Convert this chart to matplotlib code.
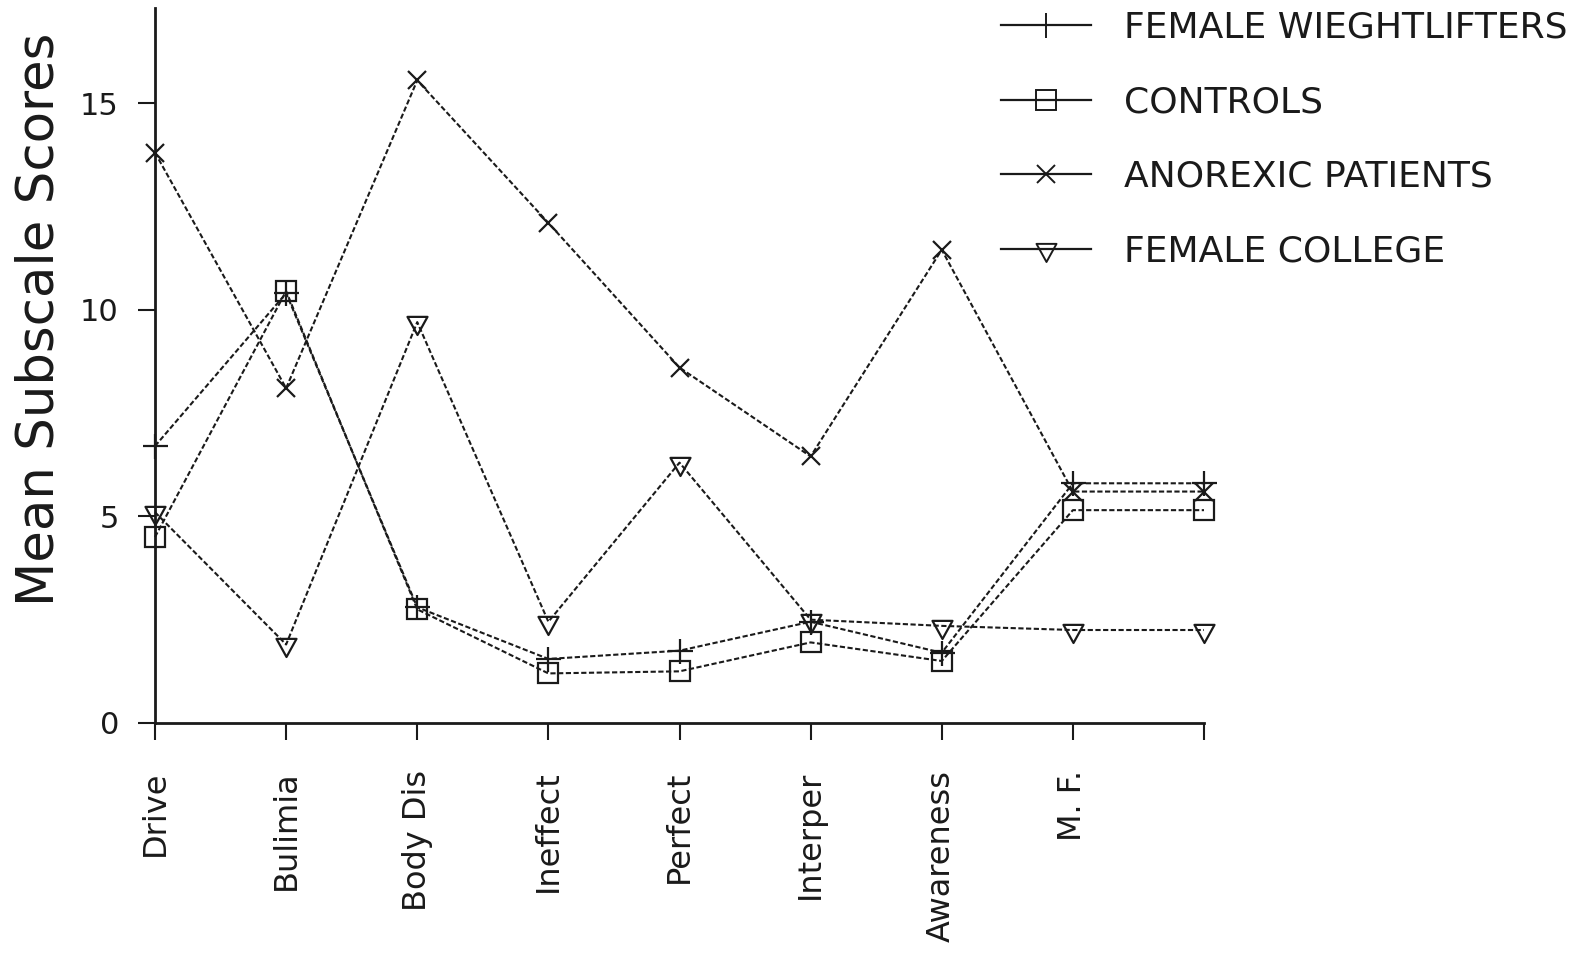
"""EDI subscale means for four groups, redrawn from a dot-matrix print.

Output: out.png (1586x973).
"""

import matplotlib

matplotlib.use("Agg")  # headless rendering
import matplotlib.pyplot as plt
from matplotlib.lines import Line2D
from matplotlib.path import Path

CATEGORIES = ["Drive", "Bulimia", "Body Dis", "Ineffect", "Perfect",
              "Interper", "Awareness", "M. F.", ""]

WEIGHTLIFTERS = [6.7, 10.4, 2.8, 1.55, 1.75, 2.45, 1.7, 5.8, 5.8]
CONTROLS = [4.5, 10.45, 2.75, 1.2, 1.25, 1.95, 1.5, 5.15, 5.15]
ANOREXIC = [13.8, 8.1, 15.55, 12.1, 8.6, 6.45, 11.45, 5.6, 5.6]
COLLEGE = [5.1, 1.9, 9.7, 2.45, 6.3, 2.5, 2.35, 2.25, 2.25]

SERIES_LABELS = ["FEMALE WIEGHTLIFTERS", "CONTROLS", "ANOREXIC PATIENTS",
                 "FEMALE COLLEGE"]
Y_TICKS = [0, 5, 10, 15]

INK = "#1a1a1a"

# triangle pointing down, line passes near its top edge
TRI_DOWN = Path([(-0.8, 0.45), (0.8, 0.45), (0.0, -1.0), (-0.8, 0.45)],
                [Path.MOVETO, Path.LINETO, Path.LINETO, Path.CLOSEPOLY])

MARKERS = ["+", "s", "x", TRI_DOWN]
SIZES = [18, 14, 13, 18]


def main() -> None:
    fig = plt.figure(figsize=(15.86, 9.73), dpi=100)
    ax = fig.add_axes([155 / 1586, 1 - 723 / 973, (1204 - 155) / 1586, (723 - 8) / 973])

    x = list(range(len(CATEGORIES)))
    data = [WEIGHTLIFTERS, CONTROLS, ANOREXIC, COLLEGE]
    for vals, mk, ms in zip(data, MARKERS, SIZES):
        ax.plot(x, vals, color=INK, linewidth=1.5, linestyle=(0, (2.5, 1.2)),
                marker=mk, markersize=ms, markerfacecolor="none",
                markeredgecolor=INK, markeredgewidth=1.6, zorder=3,
                clip_on=False)

    ax.set_xlim(0, 8)
    ax.set_ylim(0, 17.3)
    ax.set_xticks(x)
    ax.set_xticklabels(CATEGORIES, rotation=90, va="top", ha="center",
                       fontsize=23, color=INK)
    ax.set_yticks(Y_TICKS)
    ax.set_yticklabels([str(t) for t in Y_TICKS], fontsize=22, color=INK)
    ax.tick_params(axis="x", length=12, width=1.5, pad=22, colors=INK)
    ax.tick_params(axis="y", length=12, width=1.5, pad=14, colors=INK)
    for side in ("top", "right"):
        ax.spines[side].set_visible(False)
    for side in ("left", "bottom"):
        ax.spines[side].set_linewidth(2)
        ax.spines[side].set_color(INK)

    fig.text(40 / 1586, 1 - 319 / 973, "Mean Subscale Scores", rotation=90,
             ha="center", va="center", fontsize=37, color=INK)

    handles = [
        Line2D([0], [0], color=INK, linewidth=1.6, marker=mk, markersize=ms,
               markerfacecolor="none", markeredgecolor=INK, markeredgewidth=1.4,
               label=lab)
        for mk, ms, lab in zip(MARKERS, SIZES, SERIES_LABELS)
    ]
    fig.legend(handles=handles, loc="upper left",
               bbox_to_anchor=(1001 / 1586, 1 - 11 / 973), frameon=False,
               fontsize=26, handlelength=2.5, handletextpad=0.9,
               labelspacing=1.12, borderaxespad=0, borderpad=0,
               labelcolor=INK)

    fig.savefig("out.png", dpi=100)
    plt.close(fig)


if __name__ == "__main__":
    main()
